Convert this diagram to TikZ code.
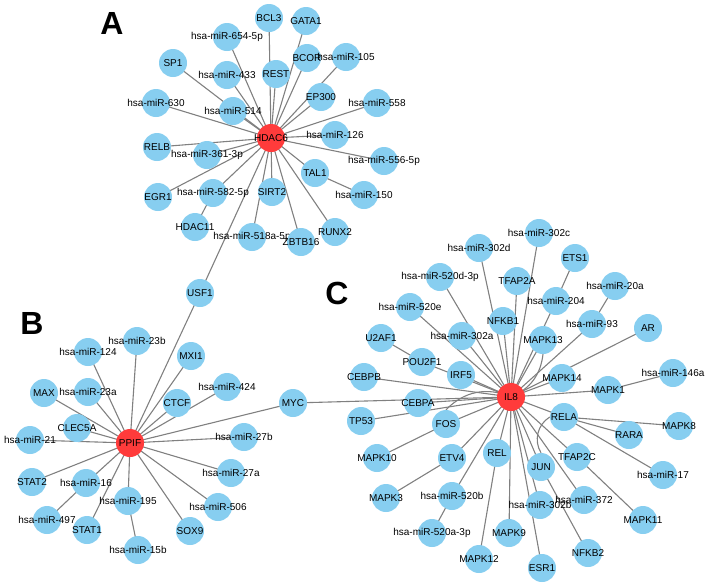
\documentclass[tikz,border=0pt]{standalone}
\usepackage{fontspec}
\setmainfont{Liberation Sans}
\usetikzlibrary{backgrounds}
\definecolor{nodeblue}{RGB}{135,206,240}
\definecolor{hubred}{RGB}{255,59,59}
\definecolor{edgegray}{RGB}{128,128,128}
\tikzset{
  gene/.style={circle,fill=nodeblue,minimum size=28pt,inner sep=0pt,
    label distance=0pt,every label/.style={font=\fontsize{10.6}{12}\selectfont,inner sep=0pt}},
  hub/.style={gene,fill=hubred},
  edge/.style={draw=edgegray,line width=1.1pt},
  panel/.style={font=\fontsize{32}{36}\selectfont\bfseries,inner sep=0pt}
}
\begin{document}
\begin{tikzpicture}[x=1pt,y=-1pt]
	  \useasboundingbox (0,0) rectangle (708,587);
	  % panel letters
	  \node[panel] (labA) at (112,23) {A};
	  \node[panel] (labB) at (32,323) {B};
	  \node[panel] (labC) at (337,293) {C};
	  % A: HDAC6 network
	  \node[gene,label=center:BCL3] (bcl3) at (269,18) {};
	  \node[gene,label=center:GATA1] (gata1) at (306,21) {};
	  \node[gene,label=center:hsa-miR-654-5p] (m6545p) at (227,37) {};
	  \node[gene,label=center:SP1] (sp1) at (173,63) {};
	  \node[gene,label=center:hsa-miR-433] (m433) at (227,75) {};
	  \node[gene,label=center:REST] (rest) at (276,74) {};
	  \node[gene,label=center:BCOR] (bcor) at (307,58) {};
	  \node[gene,label=center:hsa-miR-105] (m105) at (346,57) {};
	  \node[gene,label=center:EP300] (ep300) at (321,97) {};
	  \node[gene,label=center:hsa-miR-630] (m630) at (156,103) {};
	  \node[gene,label=center:hsa-miR-514] (m514) at (233,111) {};
	  \node[gene,label=center:hsa-miR-558] (m558) at (377,103) {};
	  \node[gene,label=center:hsa-miR-126] (m126) at (335,135) {};
	  \node[gene,label=center:RELB] (relb) at (157,147) {};
	  \node[gene,label=center:hsa-miR-361-3p] (m3613p) at (207,155) {};
	  \node[gene,label=center:hsa-miR-556-5p] (m5565p) at (384,161) {};
	  \node[gene,label=center:TAL1] (tal1) at (315,173) {};
	  \node[gene,label=center:EGR1] (egr1) at (158,197) {};
	  \node[gene,label=center:hsa-miR-582-5p] (m5825p) at (213,193) {};
	  \node[gene,label=center:SIRT2] (sirt2) at (272,192) {};
	  \node[gene,label=center:hsa-miR-150] (m150) at (364,195) {};
	  \node[gene,label=center:HDAC11] (hdac11) at (195,227) {};
	  \node[gene,label=center:hsa-miR-518a-5p] (m518a) at (252,237) {};
	  \node[gene,label=center:ZBTB16] (zbtb16) at (301,242) {};
	  \node[gene,label=center:RUNX2] (runx2) at (335,232) {};
	  \node[hub,label=center:HDAC6] (hdac6) at (271,138) {};
	  \node[gene,label=center:USF1] (usf1) at (200,293) {};
	  % B: PPIF network
	  \node[gene,label=center:hsa-miR-23b] (m23b) at (137,341) {};
	  \node[gene,label=center:hsa-miR-124] (m124) at (88,352) {};
	  \node[gene,label=center:MXI1] (mxi1) at (191,356) {};
	  \node[gene,label=center:MAX] (max) at (44,393) {};
	  \node[gene,label=center:hsa-miR-23a] (m23a) at (88,392) {};
	  \node[gene,label=center:hsa-miR-424] (m424) at (227,387) {};
	  \node[gene,label=center:CTCF] (ctcf) at (177,403) {};
	  \node[gene,label=center:MYC] (myc) at (293,403) {};
	  \node[gene,label=center:CLEC5A] (clec5a) at (77,428) {};
	  \node[gene,label=center:hsa-miR-21] (m21) at (30,440) {};
	  \node[gene,label=center:hsa-miR-27b] (m27b) at (244,437) {};
	  \node[gene,label=center:STAT2] (stat2) at (32,482) {};
	  \node[gene,label=center:hsa-miR-16] (m16) at (86,483) {};
	  \node[gene,label=center:hsa-miR-27a] (m27a) at (231,473) {};
	  \node[gene,label=center:hsa-miR-195] (m195) at (128,501) {};
	  \node[gene,label=center:hsa-miR-506] (m506) at (218,507) {};
	  \node[gene,label=center:hsa-miR-497] (m497) at (47,520) {};
	  \node[gene,label=center:STAT1] (stat1) at (87,530) {};
	  \node[gene,label=center:SOX9] (sox9) at (190,531) {};
	  \node[gene,label=center:hsa-miR-15b] (m15b) at (138,550) {};
	  \node[hub,label=center:PPIF] (ppif) at (130,443) {};
	  % C: IL8 network
	  \node[gene,label=center:hsa-miR-302c] (m302c) at (539,233) {};
	  \node[gene,label=center:hsa-miR-302d] (m302d) at (479,248) {};
	  \node[gene,label=center:ETS1] (ets1) at (575,258) {};
	  \node[gene,label=center:hsa-miR-520d-3p] (m520d) at (440,277) {};
	  \node[gene,label=center:TFAP2A] (tfap2a) at (517,281) {};
	  \node[gene,label=center:hsa-miR-20a] (m20a) at (615,286) {};
	  \node[gene,label=center:hsa-miR-204] (m204) at (556,301) {};
	  \node[gene,label=center:hsa-miR-520e] (m520e) at (410,307) {};
	  \node[gene,label=center:NFKB1] (nfkb1) at (503,321) {};
	  \node[gene,label=center:hsa-miR-93] (m93) at (592,324) {};
	  \node[gene,label=center:hsa-miR-302a] (m302a) at (462,336) {};
	  \node[gene,label=center:MAPK13] (mapk13) at (543,340) {};
	  \node[gene,label=center:AR] (ar) at (648,328) {};
	  \node[gene,label=center:U2AF1] (u2af1) at (381,338) {};
	  \node[gene,label=center:POU2F1] (pou2f1) at (422,362) {};
	  \node[gene,label=center:CEBPB] (cebpb) at (364,377) {};
	  \node[gene,label=center:IRF5] (irf5) at (461,375) {};
	  \node[gene,label=center:MAPK14] (mapk14) at (562,378) {};
	  \node[gene,label=center:MAPK1] (mapk1) at (608,390) {};
	  \node[gene,label=center:hsa-miR-146a] (m146a) at (673,373) {};
	  \node[gene,label=center:CEBPA] (cebpa) at (418,403) {};
	  \node[gene,label=center:TP53] (tp53) at (361,421) {};
	  \node[gene,label=center:FOS] (fos) at (446,424) {};
	  \node[gene,label=center:RELA] (rela) at (564,417) {};
	  \node[gene,label=center:MAPK8] (mapk8) at (679,426) {};
	  \node[gene,label=center:RARA] (rara) at (629,435) {};
	  \node[gene,label=center:MAPK10] (mapk10) at (377,458) {};
	  \node[gene,label=center:ETV4] (etv4) at (452,458) {};
	  \node[gene,label=center:REL] (rel) at (497,453) {};
	  \node[gene,label=center:JUN] (jun) at (541,467) {};
	  \node[gene,label=center:TFAP2C] (tfap2c) at (577,457) {};
	  \node[gene,label=center:hsa-miR-17] (m17) at (663,475) {};
	  \node[gene,label=center:MAPK3] (mapk3) at (386,498) {};
	  \node[gene,label=center:hsa-miR-520b] (m520b) at (452,496) {};
	  \node[gene,label=center:hsa-miR-302b] (m302b) at (540,505) {};
	  \node[gene,label=center:hsa-miR-372] (m372) at (584,500) {};
	  \node[gene,label=center:MAPK11] (mapk11) at (643,520) {};
	  \node[gene,label=center:hsa-miR-520a-3p] (m520a) at (432,533) {};
	  \node[gene,label=center:MAPK9] (mapk9) at (509,533) {};
	  \node[gene,label=center:MAPK12] (mapk12) at (479,559) {};
	  \node[gene,label=center:NFKB2] (nfkb2) at (588,553) {};
	  \node[gene,label=center:ESR1] (esr1) at (542,568) {};
	  \node[hub,label=center:IL8] (il8) at (511,397) {};
	  % edges
	  \begin{scope}[on background layer]
	  \draw[edge] (hdac6.center) -- (bcl3.center);
	  \draw[edge] (hdac6.center) -- (gata1.center);
	  \draw[edge] (hdac6.center) -- (m6545p.center);
	  \draw[edge] (hdac6.center) -- (sp1.center);
	  \draw[edge] (hdac6.center) -- (m433.center);
	  \draw[edge] (hdac6.center) -- (rest.center);
	  \draw[edge] (hdac6.center) -- (bcor.center);
	  \draw[edge] (hdac6.center) -- (m105.center);
	  \draw[edge] (hdac6.center) -- (ep300.center);
	  \draw[edge] (hdac6.center) -- (m630.center);
	  \draw[edge] (hdac6.center) -- (m514.center);
	  \draw[edge] (hdac6.center) -- (m558.center);
	  \draw[edge] (hdac6.center) -- (m126.center);
	  \draw[edge] (hdac6.center) -- (relb.center);
	  \draw[edge] (hdac6.center) -- (m3613p.center);
	  \draw[edge] (hdac6.center) -- (m5565p.center);
	  \draw[edge] (hdac6.center) -- (tal1.center);
	  \draw[edge] (tal1.center) -- (m150.center);
	  \draw[edge] (hdac6.center) -- (egr1.center);
	  \draw[edge] (hdac6.center) -- (m5825p.center);
	  \draw[edge] (m5825p.center) -- (hdac11.center);
	  \draw[edge] (hdac6.center) -- (sirt2.center);
	  \draw[edge] (hdac6.center) -- (m518a.center);
	  \draw[edge] (hdac6.center) -- (zbtb16.center);
	  \draw[edge] (hdac6.center) -- (runx2.center);
	  \draw[edge] (hdac6.center) -- (usf1.center);
	  \draw[edge] (usf1.center) -- (ppif.center);
	  \draw[edge] (ppif.center) -- (m23b.center);
	  \draw[edge] (ppif.center) -- (m124.center);
	  \draw[edge] (ppif.center) -- (mxi1.center);
	  \draw[edge] (ppif.center) -- (max.center);
	  \draw[edge] (ppif.center) -- (m23a.center);
	  \draw[edge] (ppif.center) -- (m424.center);
	  \draw[edge] (ppif.center) -- (ctcf.center);
	  \draw[edge] (ppif.center) -- (myc.center);
	  \draw[edge] (ppif.center) -- (clec5a.center);
	  \draw[edge] (ppif.center) -- (m21.center);
	  \draw[edge] (ppif.center) -- (m27b.center);
	  \draw[edge] (ppif.center) -- (stat2.center);
	  \draw[edge] (ppif.center) -- (m16.center);
	  \draw[edge] (m16.center) -- (m497.center);
	  \draw[edge] (ppif.center) -- (m27a.center);
	  \draw[edge] (ppif.center) -- (m195.center);
	  \draw[edge] (m195.center) -- (m15b.center);
	  \draw[edge] (ppif.center) -- (m506.center);
	  \draw[edge] (ppif.center) -- (stat1.center);
	  \draw[edge] (ppif.center) -- (sox9.center);
	  \draw[edge] (myc.center) -- (il8.center);
	  \draw[edge] (il8.center) -- (m302c.center);
	  \draw[edge] (il8.center) -- (m302d.center);
	  \draw[edge] (il8.center) -- (m204.center);
	  \draw[edge] (m204.center) -- (ets1.center);
	  \draw[edge] (il8.center) -- (m520d.center);
	  \draw[edge] (il8.center) -- (tfap2a.center);
	  \draw[edge] (il8.center) -- (m93.center);
	  \draw[edge] (m93.center) -- (m20a.center);
	  \draw[edge] (il8.center) -- (m520e.center);
	  \draw[edge] (il8.center) -- (nfkb1.center);
	  \draw[edge] (il8.center) -- (m302a.center);
	  \draw[edge] (il8.center) -- (mapk13.center);
	  \draw[edge] (mapk13.south) to[bend left=30] (il8.center);
	  \draw[edge] (il8.center) -- (ar.center);
	  \draw[edge] (il8.center) -- (pou2f1.center);
	  \draw[edge] (pou2f1.center) -- (u2af1.center);
	  \draw[edge] (il8.center) -- (cebpb.center);
	  \draw[edge] (il8.center) -- (irf5.center);
	  \draw[edge] (il8.center) -- (mapk14.center);
	  \draw[edge] (il8.center) -- (mapk1.center);
	  \draw[edge] (mapk1.center) -- (m146a.center);
	  \draw[edge] (il8.center) -- (cebpa.center);
	  \draw[edge] (il8.center) -- (tp53.center);
	  \draw[edge] (il8.center) -- (fos.center);
	  \draw[edge] (fos.north) to[bend left=35] (il8.center);
	  \draw[edge] (fos.center) -- (mapk10.center);
	  \draw[edge] (il8.center) -- (rela.center);
	  \draw[edge] (rela.center) -- (mapk8.center);
	  \draw[edge] (rela.center) -- (rara.center);
	  \draw[edge] (rela.center) -- (m17.center);
	  \draw[edge] (rela.west) to[bend right=45] (jun.north);
	  \draw[edge] (il8.center) -- (etv4.center);
	  \draw[edge] (etv4.center) -- (mapk3.center);
	  \draw[edge] (il8.center) -- (rel.center);
	  \draw[edge] (rel.center) -- (mapk12.center);
	  \draw[edge] (il8.center) -- (jun.center);
	  \draw[edge] (jun.center) -- (nfkb2.center);
	  \draw[edge] (il8.center) -- (tfap2c.center);
	  \draw[edge] (tfap2c.center) -- (mapk11.center);
	  \draw[edge] (il8.center) -- (m520b.center);
	  \draw[edge] (m520b.center) -- (m520a.center);
	  \draw[edge] (il8.center) -- (m302b.center);
	  \draw[edge] (il8.center) -- (m372.center);
	  \draw[edge] (il8.center) -- (mapk9.center);
	  \draw[edge] (il8.center) -- (esr1.center);
	  \end{scope}
\end{tikzpicture}
\end{document}
